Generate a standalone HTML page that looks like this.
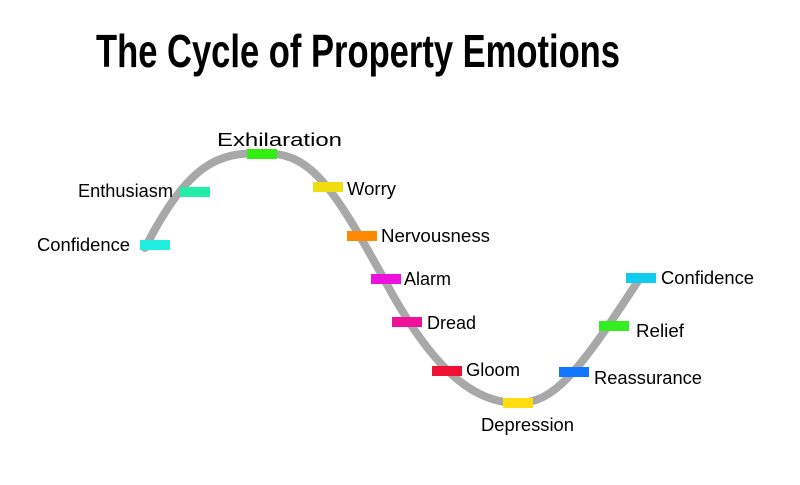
<!DOCTYPE html>
<html><head><meta charset="utf-8"><style>html,body{margin:0;padding:0;background:#fff}svg{display:block}</style></head>
<body>
<svg width="800" height="485" xmlns="http://www.w3.org/2000/svg" font-family="Liberation Sans, sans-serif">
<rect width="800" height="485" fill="#fff"/>
<text x="96" y="67" font-size="46" font-weight="bold" textLength="524" lengthAdjust="spacingAndGlyphs" fill="#000">The Cycle of Property Emotions</text>
<path d="M145,248 C190,160 220,153 262,153 C310,153 330,180 390,290 C440,380 480,403 518,403 C555,403 580,370 640,278" fill="none" stroke="#a8a8a8" stroke-width="8" stroke-linecap="round"/>
<g>
<rect x="140" y="240" width="30" height="10" fill="#22eedd"/>
<rect x="180" y="187" width="30" height="10" fill="#22eea8"/>
<rect x="247" y="149" width="30" height="10" fill="#33ee11"/>
<rect x="313" y="182" width="30" height="10" fill="#eedd11"/>
<rect x="347" y="231" width="30" height="10" fill="#ff8800"/>
<rect x="371" y="274" width="30" height="10" fill="#ee11dd"/>
<rect x="392" y="317" width="30" height="10" fill="#ee1199"/>
<rect x="432" y="366" width="30" height="10" fill="#ee1133"/>
<rect x="503" y="398" width="30" height="10" fill="#ffdd11"/>
<rect x="559" y="367" width="30" height="10" fill="#1177ff"/>
<rect x="599" y="321" width="30" height="10" fill="#33ee22"/>
<rect x="626" y="273" width="30" height="10" fill="#11ccee"/>
</g>
<g font-size="18" fill="#000">
<text x="37" y="251" textLength="93" lengthAdjust="spacingAndGlyphs">Confidence</text>
<text x="78" y="197" textLength="95" lengthAdjust="spacingAndGlyphs">Enthusiasm</text>
<text x="217" y="146" textLength="125" lengthAdjust="spacingAndGlyphs">Exhilaration</text>
<text x="347" y="195" textLength="49" lengthAdjust="spacingAndGlyphs">Worry</text>
<text x="381" y="242" textLength="109" lengthAdjust="spacingAndGlyphs">Nervousness</text>
<text x="404" y="285" textLength="47" lengthAdjust="spacingAndGlyphs">Alarm</text>
<text x="427" y="329" textLength="49" lengthAdjust="spacingAndGlyphs">Dread</text>
<text x="466" y="376" textLength="54" lengthAdjust="spacingAndGlyphs">Gloom</text>
<text x="481" y="431" textLength="93" lengthAdjust="spacingAndGlyphs">Depression</text>
<text x="594" y="384" textLength="108" lengthAdjust="spacingAndGlyphs">Reassurance</text>
<text x="636" y="337" textLength="48" lengthAdjust="spacingAndGlyphs">Relief</text>
<text x="661" y="284" textLength="93" lengthAdjust="spacingAndGlyphs">Confidence</text>
</g>
</svg>
</body></html>
